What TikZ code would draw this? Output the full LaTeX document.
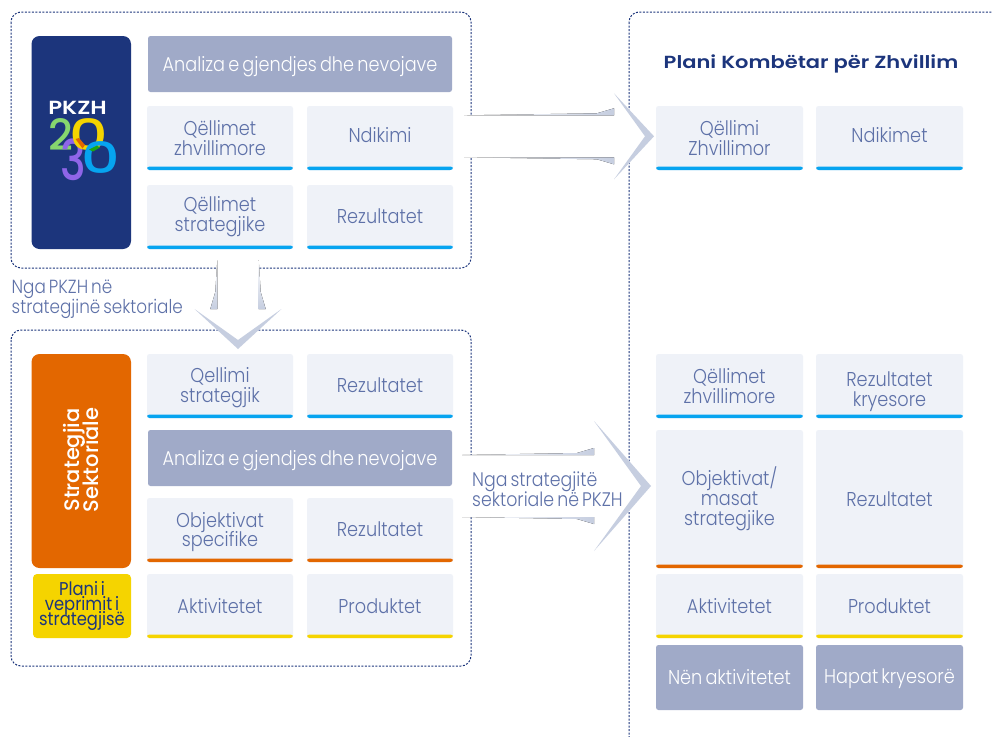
\documentclass[tikz,border=0pt]{standalone}
\usepackage{fontspec}
\setmainfont{Poppins}[FakeStretch=0.885,WordSpace=0.65,UprightFont=* Light]
\newfontfamily\titlefont{Poppins}[FakeStretch=1.2,UprightFont=* SemiBold]
\newfontfamily\medfont{Poppins}[UprightFont=* Medium]
\newfontfamily\regfont{Poppins}[FakeStretch=0.885,WordSpace=0.65]
\AtBeginDocument{\lineskiplimit=-20pt\relax}
\definecolor{navy}{HTML}{1C357C}
\definecolor{slate}{HTML}{A0AAC8}
\definecolor{pale}{HTML}{EFF2F8}
\definecolor{ink}{HTML}{5E71A8}
\definecolor{barblue}{HTML}{06A4F0}
\definecolor{barorange}{HTML}{E36700}
\definecolor{baryellow}{HTML}{F5D400}
\definecolor{arrowshade}{HTML}{C6CEE0}
\definecolor{digitgreen}{HTML}{86D66E}
\definecolor{digitpurple}{HTML}{8F65E8}
\tikzset{
  panel/.style={draw=navy,line width=1pt,dash pattern=on 2pt off 1.5pt,rounded corners=10pt},
  tile/.style={inner sep=0pt,align=center,rounded corners=2.5pt,text=ink,
    font=\fontsize{20}{20}\selectfont},
  paletile/.style={tile,fill=pale},
  slatetile/.style={tile,fill=slate,text=white},
  sidecard/.style={inner sep=0pt,align=center,rounded corners=8pt,text=white},
  lbl/.style={inner sep=0pt,align=left,text=ink,font=\fontsize{19}{20}\selectfont},
  lblwide/.style={lbl,font=\fontsize{19.6}{20}\selectfont},
  digit/.style={inner sep=0pt,font=\medfont\fontsize{43}{43}\selectfont}
}
\newcommand{\cellbox}[7]{%
  \node[paletile,minimum width=#4pt,minimum height=#5pt,
    path picture={\fill[#6] ([yshift=-0.1pt]path picture bounding box.south west) rectangle ([yshift=3.5pt]path picture bounding box.south east);}]
    (#1) at (#2,#3) {#7};}
\newcommand{\slatebox}[6]{%
  \node[slatetile,minimum width=#4pt,minimum height=#5pt] (#1) at (#2,#3) {#6};}
\newcommand{\blockarrow}[9]{%
  \begin{scope}[shift={(#2)},rotate=#3]
    \fill[white] (-#4,-#7) -- (-#5,-#7) -- (-#5,-#6) -- (0,0) -- (-#5,#6) -- (-#5,#7) -- (-#4,#7) -- cycle;
    \fill[#9] (-#4,-#7) -- ({-#5-17},{-#7-2}) -- (-#5,{-#7-7}) -- (-#5,-#7) -- cycle;
    \fill[#9] (-#4,#7) -- ({-#5-17},{#7+2}) -- (-#5,{#7+7}) -- (-#5,#7) -- cycle;
    \fill[arrowshade] (-#5,-#6) -- (0,0) -- (-#5,#6) -- (-#8,0) -- cycle;
  \end{scope}}
\newcommand{\sg}{\vphantom{g}}
\newcommand{\sh}{\rule[-2pt]{0pt}{1pt}}
\begin{document}
\begin{tikzpicture}[x=1pt,y=-1pt]
\clip (0,0) rectangle (992,736);
\fill[white] (0,0) rectangle (992,736);
\draw[panel] (11,12) rectangle (471,268);
\draw[panel] (11,330) rectangle (471,666);
\draw[panel] (629,12) rectangle (1010,760);
\coordinate (tailA) at (464,136);
\coordinate (tipA) at (654,136.3);
\coordinate (tailB) at (238,260);
\coordinate (tipB) at (238,349);
\coordinate (tailC) at (462,486);
\coordinate (tipC) at (651,486);
\blockarrow{tailA}{tipA}{0}{190}{40}{43}{21}{9}{left color=white,right color=arrowshade}
\blockarrow{tailC}{tipC}{0}{189}{57}{65}{31}{10}{left color=white,right color=arrowshade}
\blockarrow{tailB}{tipB}{-90}{89}{40}{43.5}{20.7}{9}{top color=white,bottom color=arrowshade}
% top-left panel
\node[sidecard,fill=navy,minimum width=99.5pt,minimum height=213pt] (card) at (81.25,142.5) {};
\node[inner sep=0pt,text=white] (pk) at (77.5,107.5) {\titlefont\fontsize{19}{19}\selectfont PKZH};
\node[digit,text=digitgreen] (d2) at (61,135) {2};
\node[digit,text=digitpurple,yscale=1.3] (d3) at (73.5,159.5) {3};
\node[digit,text=baryellow,xscale=1.4] (d0a) at (89,135) {0};
\node[digit,text=barblue,xscale=1.4] (d0b) at (101,158) {0};
\fill[barorange] (75.5,139) -- (79,138) -- (85,145) -- (82.5,148.5) -- cycle;
\fill[green!60!black!80!digitgreen] (89,149.5) -- (97,145.5) -- (100,147.5) -- (93,151.5) -- cycle;
\slatebox{anA}{300}{64}{304}{56}{\rule{0pt}{21pt}Analiza e gjendjes dhe nevojave}
\cellbox{a1}{220}{138}{146}{64}{barblue}{Qëllimet\\zhvillimore}
\cellbox{a2}{380}{138}{146}{64}{barblue}{Ndikimi\sg}
\cellbox{a3}{220}{217}{146}{64}{barblue}{Qëllimet\\strategjike}
\cellbox{a4}{380}{217}{146}{64}{barblue}{Rezultatet\sh}
% bottom-left panel
\node[sidecard,fill=barorange,minimum width=99.5pt,minimum height=214pt] (cardS) at (81.25,461) {};
\node[inner sep=0pt,rotate=90,align=center,text=white,font=\medfont\fontsize{21}{18.5}\selectfont] (cardST) at (81,460) {Strategjia\\Sektoriale};
\node[sidecard,rounded corners=4pt,fill=baryellow,minimum width=98pt,minimum height=64pt,text=navy,font=\regfont\fontsize{18.5}{15}\selectfont] (plan) at (82,606) {Plani i\\veprimit i\\strategjisë};
\cellbox{b1}{220}{386}{146}{64}{barblue}{\rule{0pt}{19pt}Qellimi\\strategjik}
\cellbox{b2}{380}{386}{146}{64}{barblue}{Rezultatet\sh}
\slatebox{anB}{300}{458}{304}{56}{\rule{0pt}{21pt}Analiza e gjendjes dhe nevojave}
\cellbox{b3}{220}{530}{146}{64}{barorange}{\rule{0pt}{19pt}Objektivat\\[-1pt]specifike}
\cellbox{b4}{380}{530}{146}{64}{barorange}{Rezultatet\sh}
\cellbox{b5}{220}{606}{146}{64}{baryellow}{Aktivitetet}
\cellbox{b6}{380}{606}{146}{64}{baryellow}{Produktet}
% right panel
\node[inner sep=0pt,text=navy] (title) at (811,64) {\titlefont\fontsize{17.5}{20}\selectfont Plani Kombëtar për Zhvillim};
\cellbox{c1}{729.5}{138}{147}{64}{barblue}{Qëllimi\\Zhvillimor}
\cellbox{c2}{889.5}{138}{147}{64}{barblue}{Ndikimet\sg}
\cellbox{c3}{729.5}{386}{147}{64}{barblue}{Qëllimet\\zhvillimore}
\cellbox{c4}{889.5}{386}{147}{64}{barblue}{\rule{0pt}{27pt}Rezultatet\\kryesore}
\cellbox{c5}{729.5}{499}{147}{138}{barorange}{Objektivat/\\masat\\strategjike}
\cellbox{c6}{889.5}{499}{147}{138}{barorange}{Rezultatet}
\cellbox{c7}{729.5}{606}{147}{64}{baryellow}{Aktivitetet}
\cellbox{c8}{889.5}{606}{147}{64}{baryellow}{Produktet}
\slatebox{c9}{729.5}{677.5}{147}{65}{Nën aktivitetet\sh}
\slatebox{c10}{889.5}{677.5}{147}{65}{\rule{0pt}{18pt}Hapat kryesorë}
\node[lbl,anchor=west] (lblB) at (11.5,299.5) {Nga PKZH në\\strategjinë sektoriale};
\node[lblwide,anchor=west] (lblC) at (472,489) {Nga strategjitë\\sektoriale në PKZH};
\end{tikzpicture}
\end{document}
